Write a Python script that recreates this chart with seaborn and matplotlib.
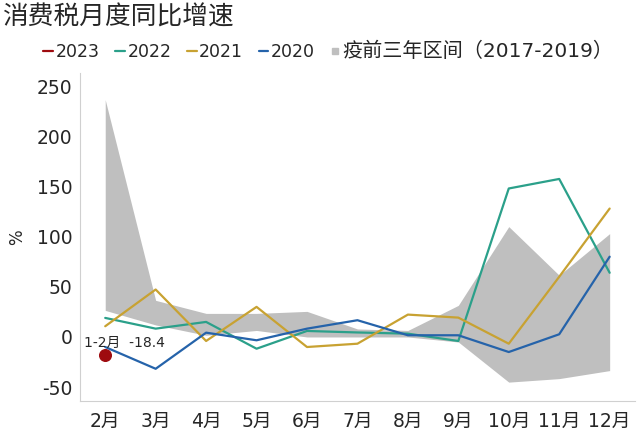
import numpy as np
import pandas as pd
import matplotlib
matplotlib.use("Agg")
import matplotlib.pyplot as plt
import seaborn as sns
from matplotlib.lines import Line2D

months = ["2月", "3月", "4月", "5月", "6月", "7月", "8月", "9月", "10月", "11月", "12月"]
y2022 = [19, 8.3, 15, -11.7, 6, 4.5, 3.3, -4, 148, 157.5, 64]
y2021 = [10.7, 47.3, -4, 30, -10, -6.7, 22.3, 19.3, -6.7, 60, 128]
y2020 = [-10, -31.7, 4.3, -3.3, 8.3, 16.7, 1.7, 1.7, -15, 2.7, 80]
band_hi = [236.5, 36.5, 23.5, 23.5, 25.5, 8, 6.5, 31.5, 110, 61.5, 103]
band_lo = [26.5, 12, 1.7, 6.5, 0, 0, 0, -5, -45, -41.5, -33.5]
v2023 = -18.4

colors = {"2023": "#9E0B0F", "2022": "#2BA08A", "2021": "#C8A232", "2020": "#2563AA"}
band_color = "#BFBFBF"

sns.set_style("white")
# DejaVu first for wide latin digits, CJK glyphs fall back to Noto
plt.rcParams["font.family"] = ["DejaVu Sans", "Noto Sans CJK SC"]
plt.rcParams["axes.unicode_minus"] = False

df = pd.DataFrame({"月份": months * 3,
                   "增速": y2022 + y2021 + y2020,
                   "年份": ["2022"] * 11 + ["2021"] * 11 + ["2020"] * 11})

fig, ax = plt.subplots(figsize=(6.4, 4.3), dpi=100)
fig.subplots_adjust(left=0.125, right=0.992, top=0.83, bottom=0.067)

x = np.arange(len(months))
ax.fill_between(x, band_lo, band_hi, color=band_color, lw=0, zorder=1)
sns.lineplot(data=df, x="月份", y="增速", hue="年份", palette=colors,
             hue_order=["2022", "2021", "2020"], linewidth=1.6, ax=ax,
             legend=False, zorder=3)
ax.scatter([0], [v2023], s=70, color=colors["2023"], zorder=4)
ax.text(-0.42, v2023 + 12.5, "1-2月  -18.4", fontsize=10, va="center", ha="left")

ax.set_xlim(-0.5, 10.5)
ax.set_ylim(-64, 263)
ax.set_yticks(range(-50, 251, 50))
ax.set_xticks(x)
ax.set_xticks(np.arange(-0.5, 11, 1), minor=True)
ax.tick_params(axis="x", which="major", length=0, labelsize=13.5, pad=8)
ax.tick_params(axis="x", which="minor", length=4, color="#BFBFBF", width=0.8)
ax.tick_params(axis="y", length=4, color="#BFBFBF", width=0.8, labelsize=13.5, pad=1.5)
ax.set_xlabel("")
ax.set_ylabel("%", fontsize=12, labelpad=8)
for side in ["top", "right"]:
    ax.spines[side].set_visible(False)
for side in ["left", "bottom"]:
    ax.spines[side].set_color("#D0D0D0")
    ax.spines[side].set_linewidth(0.8)

handles = [Line2D([], [], color=colors[k], lw=1.6) for k in ["2023", "2022", "2021", "2020"]]
handles.append(Line2D([], [], color=band_color, marker="s", markersize=5, lw=0))
labels = ["2023", "2022", "2021", "2020", "疫前三年区间（2017-2019）"]
leg = fig.legend(handles, labels, loc="center left", bbox_to_anchor=(0.057, 0.88), ncol=5,
                 frameon=False, fontsize=12.5, handlelength=0.55, handletextpad=0.15,
                 columnspacing=0.9, borderaxespad=0)
leg.get_texts()[4].set_fontsize(14.5)

fig.text(0.003, 0.96, "消费税月度同比增速", fontsize=18.5, va="center", ha="left",
         family=["Noto Sans CJK SC"])

fig.savefig("out.png", dpi=100)
